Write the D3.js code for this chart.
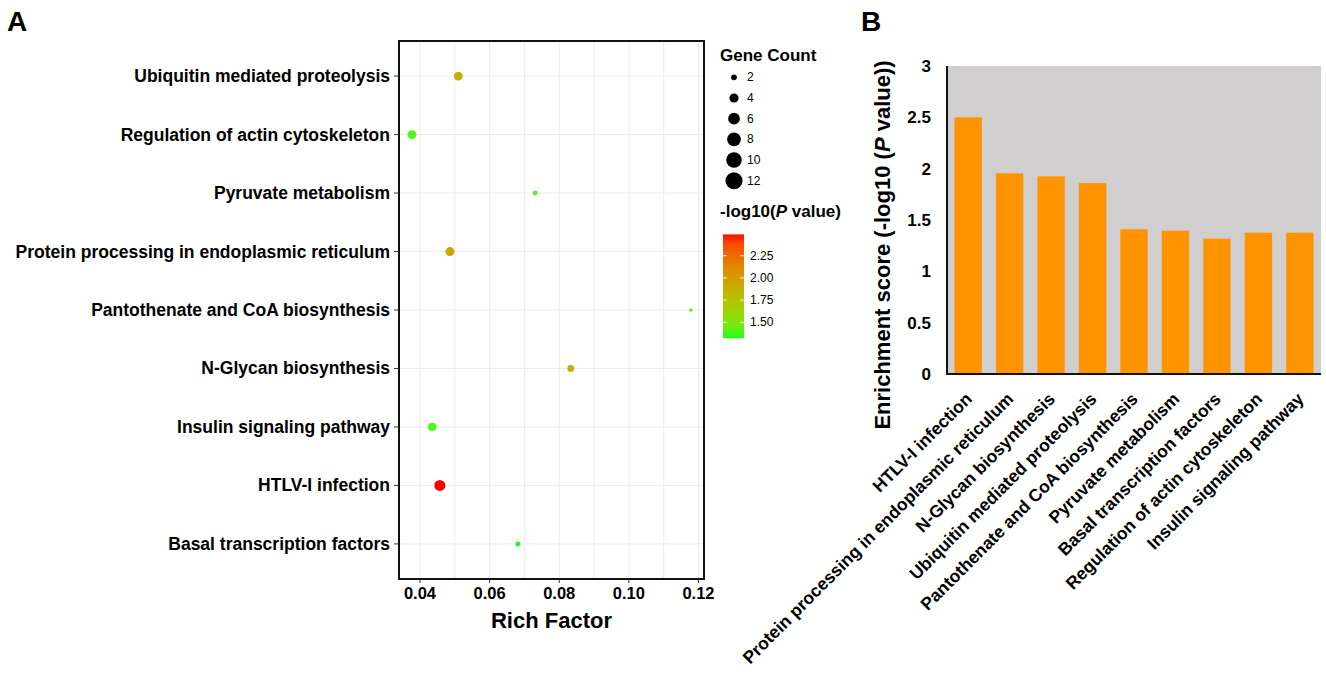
<!DOCTYPE html>
<html>
<head>
<meta charset="utf-8">
<script src="https://cdn.jsdelivr.net/npm/d3@7"></script>
<style>
  body { margin: 0; background: #fff; }
  text { font-family: 'Liberation Sans', Arial, sans-serif; }
</style>
</head>
<body>
<svg id="fig" width="1326" height="689"></svg>
<script>
// pathway data (order as in panel B)
let pathways = ['HTLV-I infection', 'Protein processing in endoplasmic reticulum', 'N-Glycan biosynthesis',
    'Ubiquitin mediated proteolysis', 'Pantothenate and CoA biosynthesis', 'Pyruvate metabolism',
    'Basal transcription factors', 'Regulation of actin cytoskeleton', 'Insulin signaling pathway']
let enrichScore = [2.50, 1.955, 1.925, 1.86, 1.41, 1.396, 1.318, 1.376, 1.376]
let richFactor = [0.0457, 0.0486, 0.0833, 0.0510, 0.1178, 0.0731, 0.0681, 0.0377, 0.0435]
let geneCount = [12, 8, 5, 8, 2, 3, 3, 8, 7]

// panel A row order, top to bottom
let dotOrder = ['Ubiquitin mediated proteolysis', 'Regulation of actin cytoskeleton', 'Pyruvate metabolism',
    'Protein processing in endoplasmic reticulum', 'Pantothenate and CoA biosynthesis', 'N-Glycan biosynthesis',
    'Insulin signaling pathway', 'HTLV-I infection', 'Basal transcription factors']
let richTicks = [0.04, 0.06, 0.08, 0.10, 0.12]
let countLegend = [2, 4, 6, 8, 10, 12]
let pvalTicks = [1.50, 1.75, 2.00, 2.25]
let scoreTicks = [0, 0.5, 1, 1.5, 2, 2.5, 3]

let rows = pathways.map((p, i) => ({name: p, score: enrichScore[i], rich: richFactor[i], count: geneCount[i]}))

let svg = d3.select('#fig')

// ---------- panel A ----------
let A = {left: 399, right: 704, top: 41, bottom: 579}

let x = d3.scaleLinear().domain([0.04, 0.12]).range([420, 698.5])
let y = d3.scalePoint().domain(dotOrder).range([A.top, A.bottom]).padding(0.6)
let areaScale = d3.scaleLinear().domain([2, 12]).range([3.4, 30.4])
let radius = c => Math.sqrt(areaScale(c))
let color = d3.scaleLinear().domain([1.32, 2.50]).range(['#1aff1a', '#ff0000']).interpolate(d3.interpolateLab)

let gA = svg.append('g')

// grid
let minor = d3.range(0.04, 0.1201, 0.01)
gA.selectAll('.vgrid').data(minor).join('line')
    .attr('x1', d => x(d)).attr('x2', d => x(d))
    .attr('y1', A.top).attr('y2', A.bottom)
    .attr('stroke', '#ebebeb').attr('stroke-width', 1)
gA.selectAll('.hgrid').data(dotOrder).join('line')
    .attr('x1', A.left).attr('x2', A.right)
    .attr('y1', d => y(d)).attr('y2', d => y(d))
    .attr('stroke', '#ebebeb').attr('stroke-width', 1)

gA.selectAll('circle.dot').data(rows).join('circle')
    .attr('class', 'dot')
    .attr('cx', d => x(d.rich))
    .attr('cy', d => y(d.name))
    .attr('r', d => radius(d.count))
    .attr('fill', d => color(d.score))

gA.append('rect')
    .attr('x', A.left).attr('y', A.top)
    .attr('width', A.right - A.left).attr('height', A.bottom - A.top)
    .attr('fill', 'none').attr('stroke', '#111').attr('stroke-width', 2)

// y axis labels
gA.selectAll('.ylab').data(dotOrder).join('text')
    .attr('x', 390).attr('y', d => y(d) + 6)
    .attr('text-anchor', 'end')
    .style('font-size', '17.5px').style('font-weight', 'bold')
    .text(d => d)
gA.selectAll('.ytick').data(dotOrder).join('line')
    .attr('x1', A.left - 5).attr('x2', A.left)
    .attr('y1', d => y(d)).attr('y2', d => y(d))
    .attr('stroke', '#333')

// x axis
gA.selectAll('.xtick').data(richTicks).join('line')
    .attr('x1', d => x(d)).attr('x2', d => x(d))
    .attr('y1', A.bottom).attr('y2', A.bottom + 4)
    .attr('stroke', '#333')
gA.selectAll('.xlab').data(richTicks).join('text')
    .attr('x', d => x(d)).attr('y', 599)
    .attr('text-anchor', 'middle')
    .style('font-size', '16.5px').style('font-weight', 'bold')
    .text(d => d3.format('.2f')(d))
gA.append('text')
    .attr('x', (A.left + A.right) / 2).attr('y', 628)
    .attr('text-anchor', 'middle')
    .style('font-size', '22px').style('font-weight', 'bold')
    .text('Rich Factor')

// legends
let leg = svg.append('g')
leg.append('text').attr('x', 720).attr('y', 61)
    .style('font-size', '17px').style('font-weight', 'bold').text('Gene Count')
let legY = d3.scalePoint().domain(countLegend).range([77.3, 180.7])
leg.selectAll('.lc').data(countLegend).join('circle')
    .attr('cx', 734).attr('cy', d => legY(d))
    .attr('r', d => radius(d) * 1.55)
    .attr('fill', '#000')
leg.selectAll('.lt').data(countLegend).join('text')
    .attr('x', 747).attr('y', d => legY(d) + 4)
    .style('font-size', '12px').text(d => d)

let pt = leg.append('text').attr('x', 720).attr('y', 217)
    .style('font-size', '17px').style('font-weight', 'bold')
pt.append('tspan').text('-log10(')
pt.append('tspan').style('font-style', 'italic').text('P')
pt.append('tspan').text(' value)')

let cbar = d3.scaleLinear().domain([1.50, 2.25]).range([322.3, 255.7])
let cTop = cbar(2.49), cBot = cbar(1.32)
let defs = svg.append('defs')
let grad = defs.append('linearGradient').attr('id', 'pgrad')
    .attr('x1', 0).attr('x2', 0).attr('y1', 1).attr('y2', 0)
d3.range(0, 1.0001, 0.1).forEach(t => {
    grad.append('stop').attr('offset', t).attr('stop-color', color(1.32 + t * (2.49 - 1.32)))
})
leg.append('rect').attr('x', 723).attr('y', cTop)
    .attr('width', 21).attr('height', cBot - cTop)
    .attr('fill', 'url(#pgrad)')
pvalTicks.forEach(v => {
    leg.append('line').attr('x1', 723).attr('x2', 727).attr('y1', cbar(v)).attr('y2', cbar(v))
        .attr('stroke', '#fff').attr('stroke-opacity', 0.8)
    leg.append('line').attr('x1', 740).attr('x2', 744).attr('y1', cbar(v)).attr('y2', cbar(v))
        .attr('stroke', '#fff').attr('stroke-opacity', 0.8)
})
leg.selectAll('.pl').data(pvalTicks).join('text')
    .attr('x', 750).attr('y', d => cbar(d) + 4)
    .style('font-size', '12px').text(d => d3.format('.2f')(d))

// ---------- panel B ----------
let B = {left: 947, right: 1321, top: 66, bottom: 374}
let xb = d3.scaleBand().domain(pathways).range([B.left, B.right]).paddingInner(0.34).paddingOuter(0.18)
let yb = d3.scaleLinear().domain([0, 3]).range([B.bottom, B.top])

let gB = svg.append('g')
gB.append('rect').attr('x', B.left).attr('y', B.top)
    .attr('width', B.right - B.left).attr('height', B.bottom - B.top)
    .attr('fill', '#d0cece')

gB.selectAll('.bar').data(rows).join('rect')
    .attr('x', d => xb(d.name)).attr('width', xb.bandwidth())
    .attr('y', d => yb(d.score)).attr('height', d => yb(0) - yb(d.score))
    .attr('fill', '#ff9400')

gB.append('line').attr('x1', B.left).attr('x2', B.left).attr('y1', B.top).attr('y2', B.bottom + 1)
    .attr('stroke', '#111').attr('stroke-width', 2)
gB.append('line').attr('x1', B.left - 1).attr('x2', B.right).attr('y1', B.bottom).attr('y2', B.bottom)
    .attr('stroke', '#111').attr('stroke-width', 2)

gB.selectAll('.ybl').data(scoreTicks).join('text')
    .attr('x', 931).attr('y', d => yb(d) + 6)
    .attr('text-anchor', 'end')
    .style('font-size', '17px').style('font-weight', 'bold')
    .text(d => d)

gB.selectAll('.xbl').data(pathways).join('text')
    .attr('transform', d => `translate(${xb(d) + xb.bandwidth() / 2 + 5}, 400) rotate(-45)`)
    .attr('text-anchor', 'end')
    .style('font-size', '17.5px').style('font-weight', 'bold')
    .text(d => d)

let yt = gB.append('text')
    .attr('transform', 'translate(890, 245) rotate(-90)')
    .attr('text-anchor', 'middle')
    .style('font-size', '22px').style('font-weight', 'bold')
yt.append('tspan').text('Enrichment score (-log10 (')
yt.append('tspan').style('font-style', 'italic').text('P')
yt.append('tspan').text(' value))')

// panel letters
svg.append('text').attr('x', 7).attr('y', 31).style('font-size', '28px').style('font-weight', 'bold').text('A')
svg.append('text').attr('x', 861).attr('y', 31).style('font-size', '28px').style('font-weight', 'bold').text('B')
</script>
</body>
</html>
